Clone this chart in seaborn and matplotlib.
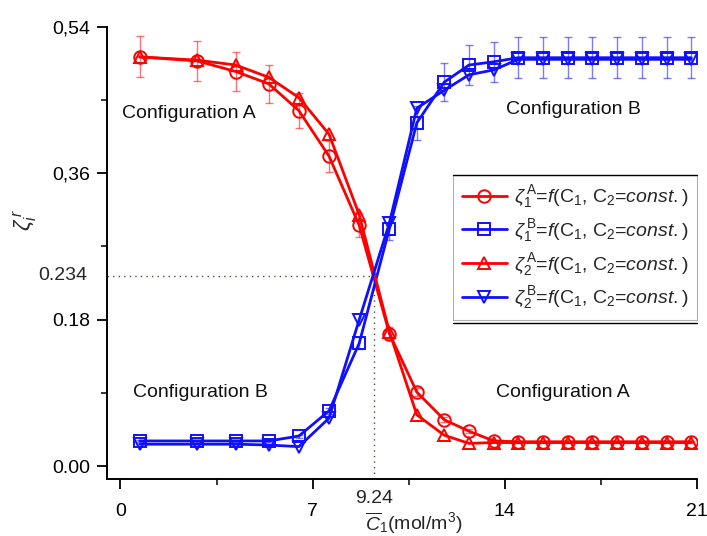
import matplotlib
matplotlib.use("Agg")
import matplotlib.pyplot as plt
from matplotlib.lines import Line2D
import numpy as np
import pandas as pd
import seaborn as sns

# Mean concentration of component 1 (mol/m^3)
c1 = [0.7, 2.8, 4.2, 5.4, 6.5, 7.6, 8.7, 9.8, 10.8, 11.8, 12.7, 13.6,
      14.5, 15.4, 16.3, 17.2, 18.1, 19.0, 19.9, 20.8]

# Fractions of each configuration
zeta1_A = [0.503, 0.498, 0.485, 0.470, 0.437, 0.381, 0.296, 0.163, 0.091, 0.057,
           0.043, 0.031, 0.030, 0.030, 0.030, 0.030, 0.030, 0.030, 0.030, 0.030]
zeta1_B = [0.031, 0.031, 0.031, 0.031, 0.037, 0.068, 0.151, 0.292, 0.422, 0.472,
           0.493, 0.497, 0.502, 0.502, 0.502, 0.502, 0.502, 0.502, 0.502, 0.502]
zeta2_A = [0.503, 0.499, 0.493, 0.478, 0.453, 0.408, 0.309, 0.165, 0.063, 0.038,
           0.028, 0.029, 0.029, 0.029, 0.029, 0.029, 0.029, 0.029, 0.029, 0.029]
zeta2_B = [0.027, 0.027, 0.027, 0.026, 0.024, 0.059, 0.180, 0.299, 0.440, 0.462,
           0.481, 0.487, 0.500, 0.500, 0.500, 0.500, 0.500, 0.500, 0.500, 0.500]

rel_err = 0.05          # relative uncertainty shown on zeta_1 series
cross_x, cross_y = 9.24, 0.234

labels = [r"$\zeta_1^{\,\mathrm{A}}$=$f$(C$_1$, C$_2$=$const.$)",
          r"$\zeta_1^{\,\mathrm{B}}$=$f$(C$_1$, C$_2$=$const.$)",
          r"$\zeta_2^{\,\mathrm{A}}$=$f$(C$_1$, C$_2$=$const.$)",
          r"$\zeta_2^{\,\mathrm{B}}$=$f$(C$_1$, C$_2$=$const.$)"]

sns.set_theme(style="ticks")
plt.rcParams["font.family"] = ["Liberation Sans", "DejaVu Sans"]
plt.rcParams["mathtext.fontset"] = "custom"
plt.rcParams["mathtext.rm"] = "Liberation Sans"
plt.rcParams["mathtext.it"] = "Liberation Sans:italic"
plt.rcParams["mathtext.bf"] = "Liberation Sans:bold"

RED = "#ff0000"
BLUE = "#1010ff"
FS = 14

fig = plt.figure(figsize=(7.07, 5.36), dpi=100)
ax = fig.add_axes([0.151, 0.106, 0.8345, 0.844])

series = [(zeta1_A, RED, "o"), (zeta1_B, BLUE, "s"),
          (zeta2_A, RED, "^"), (zeta2_B, BLUE, "v")]

for (vals, col, mk), lab in zip(series, labels):
    df = pd.DataFrame({"c1": c1, "zeta": vals})
    sns.lineplot(data=df, x="c1", y="zeta", ax=ax, color=col, marker=mk,
                 markersize=9, mfc="none", mec=col, mew=1.4, linewidth=2.0,
                 label=lab, zorder=3)

# Error bars on the zeta_1 series
for vals, col in [(zeta1_A, RED), (zeta1_B, BLUE)]:
    v = np.array(vals)
    ax.errorbar(c1, v, yerr=rel_err * v, fmt="none", ecolor=col, elinewidth=1.0,
                capsize=3, capthick=1.0, alpha=0.55, zorder=2)

# Crossing point guides
ax.plot([-0.5, cross_x], [cross_y, cross_y], ls=(0, (1, 3)), color="#5a4a3a",
        lw=1.0, zorder=1)
ax.plot([cross_x, cross_x], [-0.016, cross_y], ls=(0, (1, 3)), color="#5a4a3a",
        lw=1.0, zorder=1)

ax.set_xlim(-0.5, 21)
ax.set_ylim(-0.016, 0.54)

ax.set_xticks([0, 7, 14, 21])
ax.set_xticks([3.5, 10.5, 17.5], minor=True)
ax.set_yticks([0.0, 0.18, 0.36, 0.54])
ax.set_yticklabels(["0.00", "0.18", "0,36", "0,54"])
ax.set_yticks([0.09, 0.27, 0.45], minor=True)
ax.tick_params(which="major", direction="out", length=7, width=1.3,
               labelsize=FS, colors="black")
ax.tick_params(axis="x", which="major", pad=10)
ax.tick_params(axis="y", which="major", pad=5)
ax.tick_params(which="minor", direction="out", length=4, width=1.3)

ax.text(cross_x, -0.040, "9.24", ha="center", va="center", fontsize=FS)
ax.text(-1.2, cross_y, "0.234", ha="right", va="center", fontsize=FS)

for s in ["top", "right"]:
    ax.spines[s].set_visible(False)
for s in ["left", "bottom"]:
    ax.spines[s].set_linewidth(1.4)
    ax.spines[s].set_color("black")

ax.set_xlabel(r"$\overline{C}_1$(mol/m$^3$)", fontsize=FS, labelpad=0)
ax.xaxis.set_label_coords(0.52, -0.068)
ax.set_ylabel(r"$\zeta_i^{\,r}$", fontsize=16)
ax.yaxis.set_label_coords(-0.115, 0.573)

txt = dict(fontsize=FS, va="center", ha="left", color="#111111")
ax.text(0.04, 0.434, "Configuration A", **txt)
ax.text(14.06, 0.438, "Configuration B", **txt)
ax.text(0.47, 0.090, "Configuration B", **txt)
ax.text(13.7, 0.091, "Configuration A", **txt)

leg_x0, leg_y0, leg_y1 = 0.587, 0.345, 0.673
leg = ax.legend(loc="upper left",
                bbox_to_anchor=(leg_x0, leg_y0, 1.0 - leg_x0, leg_y1 - leg_y0),
                mode="expand", fontsize=FS, frameon=True, fancybox=False,
                edgecolor="#b0b0b0", handlelength=2.3, handletextpad=0.4,
                borderpad=0.45, labelspacing=0.35, borderaxespad=0.0,
                framealpha=1.0)
leg.get_frame().set_linewidth(0.8)
for y in (leg_y0, leg_y1):
    ax.add_line(Line2D([leg_x0, 1.0], [y, y], transform=ax.transAxes,
                       color="black", lw=1.0, clip_on=False, zorder=6))

fig.savefig("out.png", dpi=100)
